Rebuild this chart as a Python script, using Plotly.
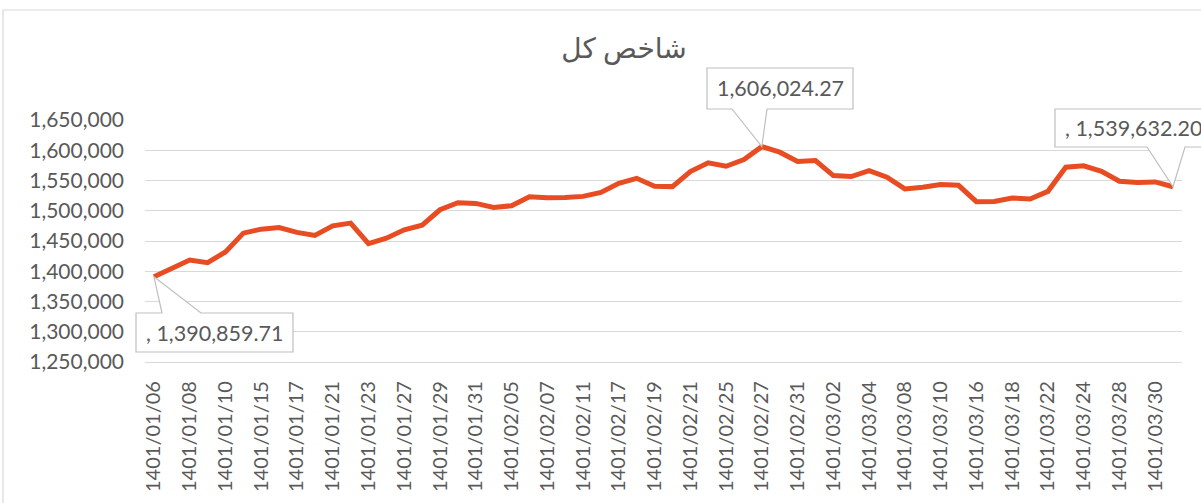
import plotly.graph_objects as go

dates = [
    "1401/01/06", "1401/01/07", "1401/01/08", "1401/01/09", "1401/01/10", "1401/01/14",
    "1401/01/15", "1401/01/16", "1401/01/17", "1401/01/20", "1401/01/21", "1401/01/22",
    "1401/01/23", "1401/01/24", "1401/01/27", "1401/01/28", "1401/01/29", "1401/01/30",
    "1401/01/31", "1401/02/04", "1401/02/05", "1401/02/06", "1401/02/07", "1401/02/10",
    "1401/02/11", "1401/02/12", "1401/02/17", "1401/02/18", "1401/02/19", "1401/02/20",
    "1401/02/21", "1401/02/24", "1401/02/25", "1401/02/26", "1401/02/27", "1401/02/28",
    "1401/02/31", "1401/03/01", "1401/03/02", "1401/03/03", "1401/03/04", "1401/03/07",
    "1401/03/08", "1401/03/09", "1401/03/10", "1401/03/11", "1401/03/16", "1401/03/17",
    "1401/03/18", "1401/03/21", "1401/03/22", "1401/03/23", "1401/03/24", "1401/03/25",
    "1401/03/28", "1401/03/29", "1401/03/30", "1401/03/31",
]

index_values = [
    1390859.71, 1404170, 1418620, 1414140, 1431900, 1462970,
    1469600, 1472270, 1464300, 1459300, 1475100, 1479600,
    1445700, 1454700, 1468450, 1476260, 1501670, 1513300,
    1512100, 1505500, 1508300, 1523270, 1521600, 1522100,
    1523760, 1530400, 1545360, 1553660, 1540370, 1539880,
    1564790, 1579240, 1573600, 1584720, 1606024.27, 1596850,
    1581400, 1583060, 1558150, 1556490, 1566450, 1555320,
    1536060, 1538710, 1543200, 1542040, 1514960, 1515460,
    1521100, 1519450, 1532070, 1571930, 1574260, 1565290,
    1548680, 1546520, 1547680, 1539632.20,
]

y_ticks = [1250000, 1300000, 1350000, 1400000, 1450000, 1500000, 1550000, 1600000, 1650000]
title_text = "شاخص کل"
labelled_points = [0, 34, 57]
label_texts = [", 1,390,859.71", "1,606,024.27", ", 1,539,632.20"]

W, H = 1201, 503
L, R, T, B = 145, 19, 120, 141
PW, PH = W - L - R, H - T - B
N = len(dates)
YMIN, YMAX = y_ticks[0], y_ticks[-1]

FONT = "Lato, 'Noto Sans', sans-serif"
TXT = "#595959"
GRID = "#D9D9D9"
LINE = "#E84C22"

x_idx = list(range(N))

fig = go.Figure()
fig.add_trace(go.Scatter(
    x=x_idx, y=index_values, mode="lines",
    line=dict(color=LINE, width=5),
    hoverinfo="skip", showlegend=False,
))


def px_to_paper(px, py):
    return (px - L) / PW, (H - B - py) / PH


def pt_to_paper(i, v):
    return (i + 0.5) / N, (v - YMIN) / (YMAX - YMIN)


# callout boxes: (box left, top, right, bottom, wedge base a, wedge base b, wedge side) in pixels
callouts = [
    (136, 313, 293, 352, 162, 201, "top"),
    (707, 68, 853, 109, 732, 767, "bottom"),
    (1055, 109, 1260, 147, 1147, 1185, "bottom"),
]

shapes = []
annotations = []
for (bl, bt, br, bb, wa, wb, side), i, txt in zip(callouts, labelled_points, label_texts):
    tx, ty = pt_to_paper(i, index_values[i])
    p = [px_to_paper(bl, bt), px_to_paper(br, bt), px_to_paper(br, bb), px_to_paper(bl, bb)]
    if side == "top":
        pts = [p[0], px_to_paper(wa, bt), (tx, ty), px_to_paper(wb, bt), p[1], p[2], p[3]]
    else:
        pts = [p[0], p[1], p[2], px_to_paper(wb, bb), (tx, ty), px_to_paper(wa, bb), p[3]]
    path = "M " + " L ".join(f"{a:.5f},{b:.5f}" for a, b in pts) + " Z"
    shapes.append(dict(type="path", xref="paper", yref="paper", path=path,
                       fillcolor="white", line=dict(color="#BFBFBF", width=1.2), layer="above"))
    cx, cy = px_to_paper(bl + 8, (bt + bb) / 2)
    annotations.append(dict(xref="paper", yref="paper", x=cx, y=cy, text=txt, showarrow=False,
                            xanchor="left", yanchor="middle",
                            font=dict(family=FONT, size=21.5, color=TXT)))

# outer chart border
x0, y0 = px_to_paper(3, 10)
x1, y1 = px_to_paper(1260, 560)
shapes.insert(0, dict(type="rect", xref="paper", yref="paper", x0=x0, y0=y1, x1=x1, y1=y0,
                      line=dict(color=GRID, width=1.2), fillcolor="rgba(0,0,0,0)", layer="below"))

fig.update_layout(
    width=W, height=H,
    margin=dict(l=L, r=R, t=T, b=B),
    paper_bgcolor="white", plot_bgcolor="white",
    title=dict(text=title_text, x=624 / W, xref="container", xanchor="center",
               y=1 - 48 / H, yref="container", yanchor="middle",
               font=dict(family="'Noto Sans', 'DejaVu Sans', sans-serif", size=28, color=TXT)),
    shapes=shapes,
    annotations=annotations,
    xaxis=dict(
        range=[-0.5, N - 0.5],
        tickmode="array",
        tickvals=x_idx[::2],
        ticktext=dates[::2],
        tickangle=-90,
        tickfont=dict(family=FONT, size=20, color=TXT),
        showgrid=False, zeroline=False,
        showline=True, linecolor=GRID, linewidth=1.2,
        ticks="", ticklabelstandoff=10,
    ),
    yaxis=dict(
        range=[YMIN, YMAX],
        tickmode="array",
        tickvals=y_ticks,
        ticktext=[f"{v:,}" for v in y_ticks],
        tickfont=dict(family=FONT, size=21, color=TXT),
        showgrid=True, gridcolor=GRID, gridwidth=1.2,
        zeroline=False, showline=False, ticks="", ticklabelstandoff=20,
    ),
)

fig.write_html("out.html")
